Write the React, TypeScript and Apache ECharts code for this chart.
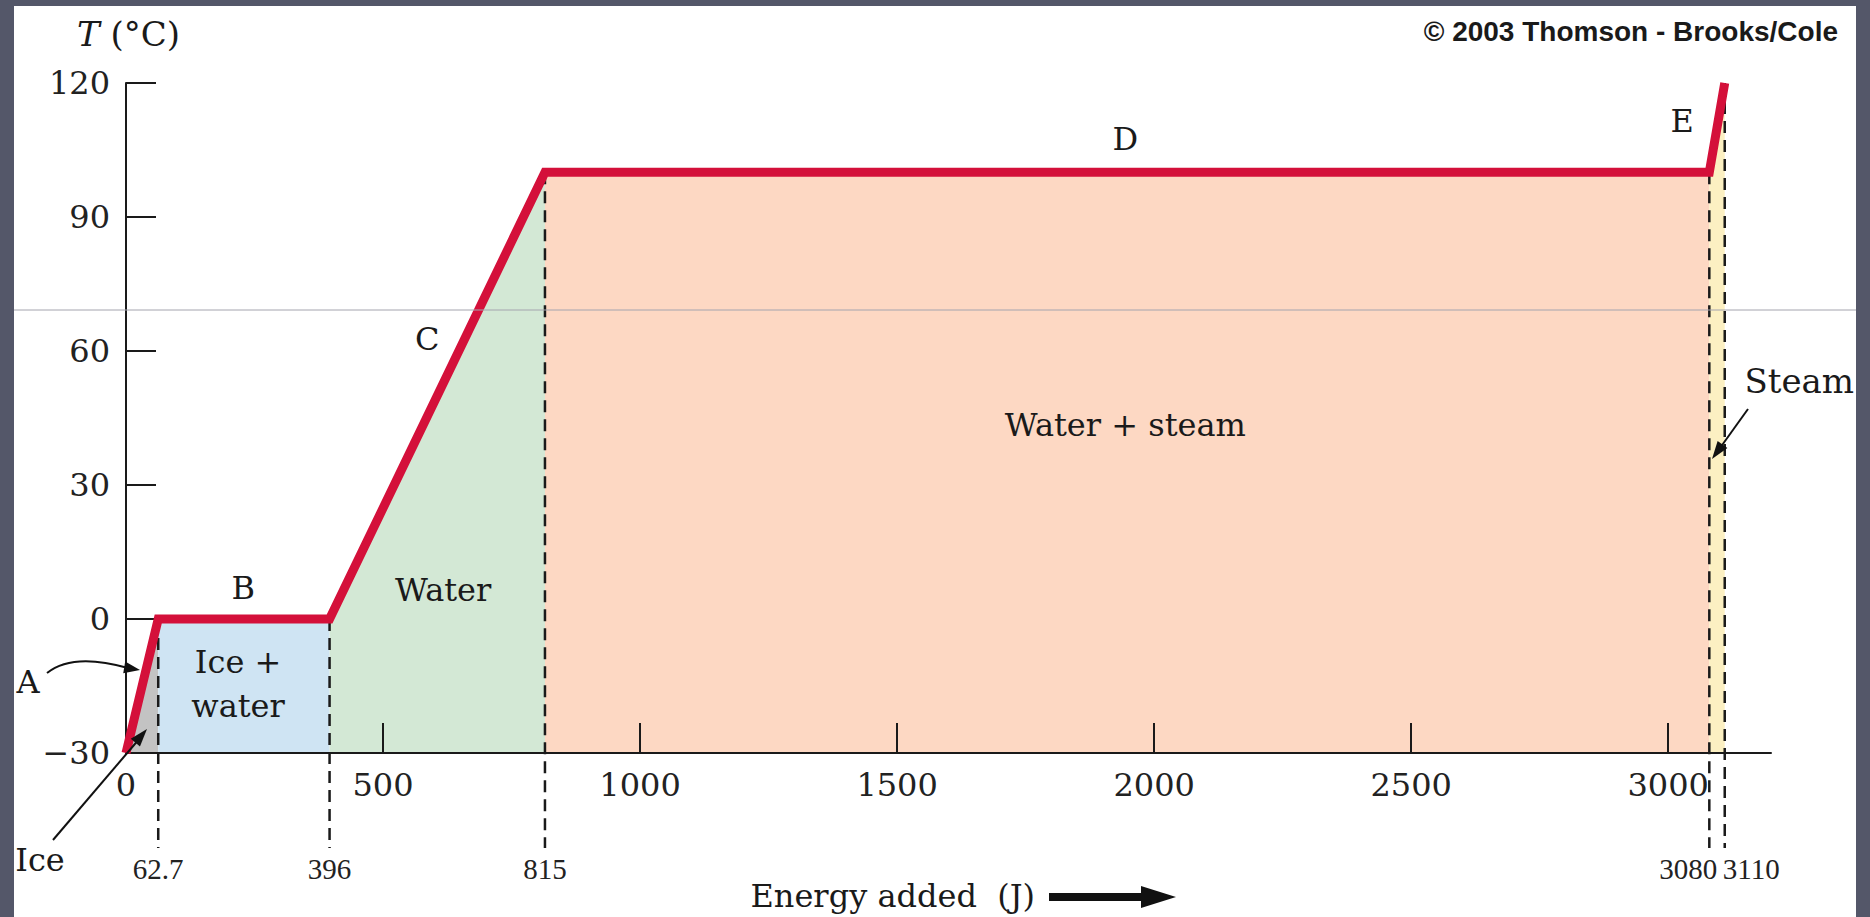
import React, { useEffect, useRef } from 'react';
import * as echarts from 'echarts';

// ---- data ----
const curveEnergy = [0, 62.7, 396, 815, 3080, 3110];
const curveTemp = [-30, 0, 0, 100, 100, 120];

const phaseNames = ['Ice', 'Ice + water', 'Water', 'Water + steam', 'Steam'];
const phaseColors = ['#c3c3c3', '#cfe4f3', '#d3e8d5', '#fdd8c3', '#fcf0c2'];

const markerEnergy = [62.7, 396, 815, 3080, 3110];
const markerTemp = [0, 0, 100, 100, 120];
const markerLabels = ['62.7', '396', '815', '3080', '3110'];

const xTickValues = [0, 500, 1000, 1500, 2000, 2500, 3000];
const yTickValues = [-30, 0, 30, 60, 90, 120];

const annotationTexts = ['B', 'Ice +\nwater', 'Water', 'C', 'D', 'E', 'Water + steam', 'Steam'];
const annotationEnergy = [228, 218, 617, 586, 1944, 3027, 1944, 3255];
const annotationTemp = [6.9, -14.6, 6.5, 62.7, 107.5, 111.5, 43.4, 53.3];

// ---- helpers ----
const SERIF = '"DejaVu Serif"';
const INK = '#1a1a1a';

function arrowHead(tip: number[], from: number[], len: number, halfW: number) {
  const dx = tip[0] - from[0];
  const dy = tip[1] - from[1];
  const n = Math.hypot(dx, dy) || 1;
  const ux = dx / n, uy = dy / n;
  const bx = tip[0] - ux * len, by = tip[1] - uy * len;
  return [
    [tip[0], tip[1]],
    [bx - uy * halfW, by + ux * halfW],
    [bx + uy * halfW, by - ux * halfW],
  ];
}

function txt(text: string, x: number, y: number, font: string, align = 'center', extra: any = {}) {
  return {
    type: 'text', x, y, z: 60,
    style: {
      text, font, fill: INK,
      textAlign: align, textVerticalAlign: 'middle', align, verticalAlign: 'middle',
      ...extra,
    },
  };
}

function buildOption() {
  const curve = curveEnergy.map((e, i) => [e, curveTemp[i]]);

  const areaSeries = phaseNames.map((name, i) => ({
    type: 'line',
    name,
    data: [curve[i], curve[i + 1]],
    symbol: 'none',
    silent: true,
    z: 1,
    lineStyle: { width: 0, opacity: 0 },
    areaStyle: { color: phaseColors[i], opacity: 1, origin: 'start' },
  }));

  const markerSeries = {
    type: 'custom',
    z: 4,
    silent: true,
    clip: false,
    data: markerEnergy.map((e, i) => [e, markerTemp[i]]),
    renderItem: (params: any, api: any) => {
      const idx = params.dataIndex;
      const x = api.value(0);
      const top = api.coord([x, api.value(1)]);
      const base = api.coord([x, -30]);
      let lx = top[0];
      let align = 'center';
      if (idx === 3) { lx = top[0] + 8; align = 'right'; }
      if (idx === 4) { lx = top[0] - 2; align = 'left'; }
      return {
        type: 'group',
        children: [
          {
            type: 'line',
            shape: { x1: top[0], y1: top[1], x2: top[0], y2: base[1] + 95 },
            style: { stroke: '#1a1a1a', lineWidth: 2.5, lineDash: [12, 7] },
          },
          {
            type: 'text',
            x: lx,
            y: base[1] + 116,
            style: {
              text: markerLabels[idx],
              font: '29px "Liberation Serif"',
              fill: '#222',
              textAlign: align, textVerticalAlign: 'middle', align, verticalAlign: 'middle',
            },
          },
        ],
      };
    },
  };

  const curveSeries = {
    type: 'line',
    name: 'T',
    data: curve,
    symbol: 'none',
    silent: true,
    z: 10,
    lineStyle: { color: '#d4103a', width: 9, join: 'miter', cap: 'butt' },
  };

  const annotationSeries = {
    type: 'custom',
    z: 12,
    silent: true,
    clip: false,
    data: annotationEnergy.map((e, i) => [e, annotationTemp[i]]),
    renderItem: (params: any, api: any) => {
      const p = api.coord([api.value(0), api.value(1)]);
      const text = annotationTexts[params.dataIndex];
      const size = text === 'Steam' ? 34 : 32;
      return {
        type: 'text',
        x: p[0],
        y: p[1],
        style: {
          text,
          font: `${size}px ${SERIF}`,
          fill: INK,
          lineHeight: 44,
          textAlign: 'center', textVerticalAlign: 'middle', align: 'center', verticalAlign: 'middle',
        },
      };
    },
  };

  const aFrom = [128, 668], aTip = [140, 670];
  const iceFrom = [140, 738], iceTip = [147, 729];
  const stFrom = [1720, 448], stTip = [1712, 459];

  const graphic = [
    // frame
    { type: 'rect', z: 80, shape: { x: 0, y: 0, width: 14, height: 917 }, style: { fill: '#545769' } },
    { type: 'rect', z: 80, shape: { x: 0, y: 0, width: 1870, height: 6 }, style: { fill: '#545769' } },
    { type: 'rect', z: 80, shape: { x: 1856, y: 0, width: 14, height: 917 }, style: { fill: '#545769' } },
    // scan line
    { type: 'line', z: 70, shape: { x1: 14, y1: 310, x2: 1856, y2: 310 }, style: { stroke: '#a4a4ae', lineWidth: 1 } },
    // axis title
    {
      type: 'text', x: 77, y: 34, z: 60,
      style: {
        text: '{it|T}{n| (°C)}',
        fill: INK,
        textAlign: 'left', textVerticalAlign: 'middle', align: 'left', verticalAlign: 'middle',
        rich: {
          it: { fontFamily: 'DejaVu Serif', fontSize: 34, fontStyle: 'italic', fill: INK, color: INK },
          n: { fontFamily: 'DejaVu Serif', fontSize: 34, fill: INK, color: INK },
        },
      },
    },
    txt('© 2003 Thomson - Brooks/Cole', 1838, 31, 'bold 28px "Liberation Sans"', 'right'),
    txt('A', 28, 682, `32px ${SERIF}`),
    txt('Ice', 40, 860, `32px ${SERIF}`),
    txt('Energy added  (J)', 1035, 896, `32px ${SERIF}`, 'right'),
    // energy arrow
    {
      type: 'polygon', z: 60,
      shape: { points: [[1049, 893], [1141, 893], [1141, 886], [1176, 897], [1141, 908], [1141, 901], [1049, 901]] },
      style: { fill: '#111' },
    },
    // A arrow
    {
      type: 'bezierCurve', z: 60,
      shape: { x1: 47, y1: 673, cpx1: 68, cpy1: 656, cpx2: 100, cpy2: 660, x2: aFrom[0], y2: aFrom[1] },
      style: { stroke: '#111', lineWidth: 2, fill: 'none' },
    },
    { type: 'polygon', z: 60, shape: { points: arrowHead(aTip, aFrom, 16, 6) }, style: { fill: '#111' } },
    // Ice arrow
    { type: 'line', z: 60, shape: { x1: 53, y1: 840, x2: iceFrom[0], y2: iceFrom[1] }, style: { stroke: '#111', lineWidth: 2 } },
    { type: 'polygon', z: 60, shape: { points: arrowHead(iceTip, [53, 840], 18, 6) }, style: { fill: '#111' } },
    // Steam arrow
    { type: 'line', z: 60, shape: { x1: 1748, y1: 409, x2: stFrom[0], y2: stFrom[1] }, style: { stroke: '#111', lineWidth: 2 } },
    { type: 'polygon', z: 60, shape: { points: arrowHead(stTip, [1748, 409], 18, 6) }, style: { fill: '#111' } },
  ];

  return {
    animation: false,
    backgroundColor: '#ffffff',
    grid: { left: 126, top: 83, width: 1645, height: 670, containLabel: false },
    xAxis: {
      type: 'value',
      min: 0,
      max: 3200,
      z: 5,
      axisLine: { show: true, onZero: false, lineStyle: { color: INK, width: 2 } },
      axisTick: { show: true, inside: true, length: 30, customValues: xTickValues, lineStyle: { color: INK, width: 2 } },
      axisLabel: {
        customValues: xTickValues,
        margin: 16,
        fontFamily: 'DejaVu Serif',
        fontSize: 32,
        color: '#222',
        formatter: (v: number) => String(v),
      },
      splitLine: { show: false },
    },
    yAxis: {
      type: 'value',
      min: -30,
      max: 120,
      interval: 30,
      z: 5,
      axisLine: { show: true, onZero: false, lineStyle: { color: INK, width: 2 } },
      axisTick: { show: true, inside: true, length: 30, customValues: yTickValues, lineStyle: { color: INK, width: 2 } },
      axisLabel: {
        customValues: yTickValues,
        margin: 16,
        fontFamily: 'DejaVu Serif',
        fontSize: 32,
        color: '#222',
        formatter: (v: number) => (v < 0 ? '\u2212' + Math.abs(v) : String(v)),
      },
      splitLine: { show: false },
    },
    series: [...areaSeries, markerSeries, curveSeries, annotationSeries],
    graphic,
  };
}

export default function App() {
  const ref = useRef<HTMLDivElement>(null);
  useEffect(() => {
    if (!ref.current) return;
    const chart = echarts.init(ref.current, null, { renderer: 'svg' });
    chart.setOption(buildOption() as any);
    return () => chart.dispose();
  }, []);
  return (
    <div
      ref={ref}
      style={{ position: 'fixed', left: 0, top: 0, width: 1870, height: 917, background: '#fff' }}
    />
  );
}
